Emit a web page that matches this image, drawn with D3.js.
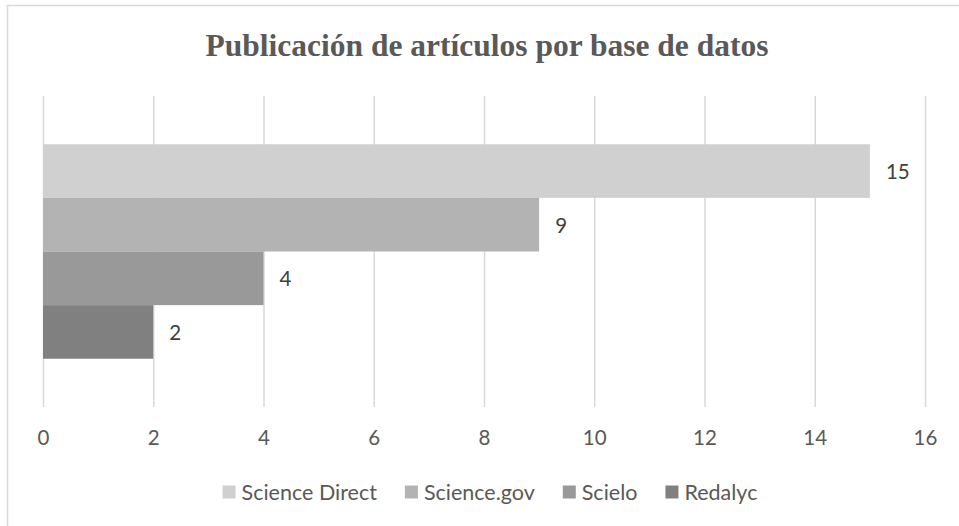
<!DOCTYPE html>
<html>
  <head>
    <meta charset="utf-8">
    <title>Publicación de artículos por base de datos</title>
    <style>
      body { margin: 0; background: #fff; }
    </style>
  </head>
  <body>
    <div id="chart"></div>
  </body>
  <script src="https://d3js.org/d3.v7.min.js"></script>
  <script>

    // data
    let series = ["Science Direct", "Science.gov", "Scielo", "Redalyc"];
    let values = [15, 9, 4, 2];
    let colors = ["#d0d0d0", "#b3b3b3", "#999999", "#808080"];
    let xTicks = [0, 2, 4, 6, 8, 10, 12, 14, 16];
    let title = "Publicación de artículos por base de datos";

    let width = 959, height = 526;
    let plot = {left: 43, right: 925, top: 96, bottom: 407};

    let svg = d3.select("#chart").append("svg")
      .attr("width", width)
      .attr("height", height)
      .style("font-family", "Lato, 'Open Sans', sans-serif");

    // outer chart border (runs off the right and bottom of the picture)
    svg.append("rect")
      .attr("x", 7.5).attr("y", 5.5)
      .attr("width", 1000).attr("height", 600)
      .attr("fill", "none")
      .attr("stroke", "#d9d9d9")
      .attr("stroke-width", 1.5);

    let xScale = d3.scaleLinear()
      .domain([0, 16])
      .range([plot.left, plot.right]);

    let yScale = d3.scaleBand()
      .domain(series)
      .range([plot.top, plot.bottom])
      .paddingInner(0)
      .paddingOuter(0.9);

    // title
    svg.append("text")
      .attr("x", 487)
      .attr("y", 56)
      .attr("text-anchor", "middle")
      .style("font-family", "'Liberation Serif', 'Times New Roman', serif")
      .style("font-weight", "bold")
      .style("font-size", "31.5px")
      .style("fill", "#595959")
      .text(title);

    // vertical gridlines + tick labels via axis
    let axis = svg.append("g")
      .attr("transform", "translate(0," + plot.bottom + ")")
      .call(d3.axisBottom(xScale)
        .tickValues(xTicks)
        .tickSize(-(plot.bottom - plot.top))
        .tickPadding(0)
        .tickFormat(d3.format("d")));

    axis.select(".domain").remove();
    axis.selectAll(".tick line")
      .attr("stroke", "#d9d9d9")
      .attr("stroke-width", 1.5);
    axis.selectAll(".tick text")
      .attr("y", 38)
      .attr("dy", 0)
      .style("font-family", "Lato, 'Open Sans', sans-serif")
      .style("font-size", "20.5px")
      .style("fill", "#595959");

    // bars
    svg.selectAll(".bar")
      .data(values)
      .enter().append("rect")
      .attr("class", "bar")
      .attr("x", xScale(0))
      .attr("y", function(d, i) { return yScale(series[i]); })
      .attr("width", function(d) { return xScale(d) - xScale(0); })
      .attr("height", yScale.bandwidth())
      .style("fill", function(d, i) { return colors[i]; });

    // data labels
    svg.selectAll(".label")
      .data(values)
      .enter().append("text")
      .attr("class", "label")
      .attr("x", function(d) { return xScale(d) + 16; })
      .attr("y", function(d, i) { return yScale(series[i]) + yScale.bandwidth() / 2 + 1; })
      .attr("dy", "0.35em")
      .style("font-size", "20.5px")
      .style("fill", "#404040")
      .text(function(d) { return d; });

    // legend, centred under the plot
    let legend = svg.append("g");
    let lx = 0;
    series.forEach(function(s, i) {
      let item = legend.append("g").attr("transform", "translate(" + lx + ",0)");
      item.append("rect")
        .attr("x", 0).attr("y", -6.5)
        .attr("width", 13).attr("height", 13)
        .style("fill", colors[i]);
      let t = item.append("text")
        .attr("x", 19)
        .attr("dy", "0.35em")
        .style("font-size", "21.5px")
        .style("fill", "#595959")
        .text(s);
      lx += 19 + t.node().getComputedTextLength() + 28;
    });
    let legendWidth = lx - 28;
    legend.attr("transform", "translate(" + (490 - legendWidth / 2) + ",492)");

  </script>
</html>
